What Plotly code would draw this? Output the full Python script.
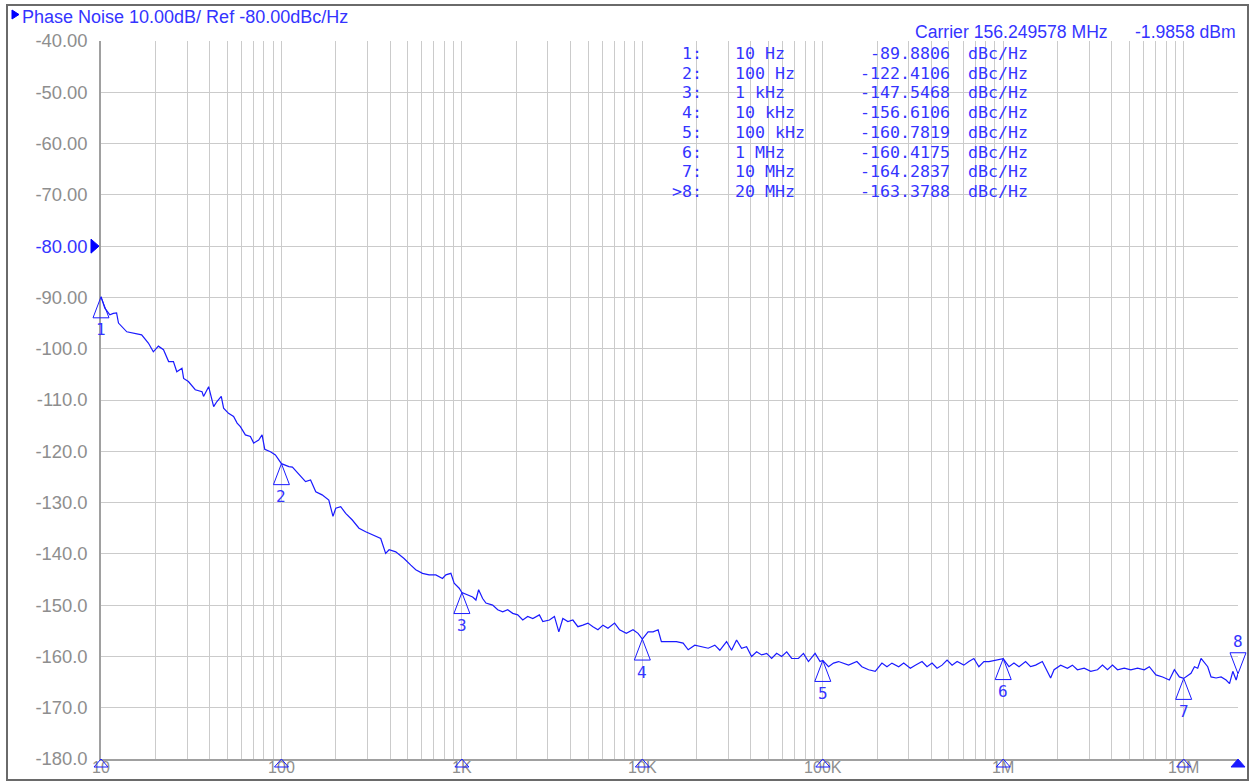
import numpy as np
import plotly.graph_objects as go

# ---------------------------------------------------------------- data
# SSB phase noise trace, offset frequency (Hz) vs level (dBc/Hz)
freq_hz = [
    10, 10.5, 11.2, 11.7, 12.2, 12.5, 13.9, 15.5, 16.8, 18.3,
    19.5, 20.8, 22.2, 23.7, 25.2, 26.3, 28.1, 28.7, 30.5, 33.3,
    36.3, 37.0, 39.5, 42.1, 43.9, 46.4, 47.8, 50.9, 54.3, 56.8,
    59.2, 63.1, 67.3, 70.2, 74.8, 78.1, 80.8, 86.9, 92.6,
    100, 105, 110, 115, 125, 136, 145, 155, 168, 183,
    193, 200, 213, 227, 247, 269, 293, 319, 355, 378,
    395, 430, 478, 521, 555, 605, 658, 717, 781, 815, 869,
    906, 966,
    1000, 1076, 1147, 1196, 1238, 1303, 1359, 1481, 1579, 1683,
    1795, 1913, 2039, 2174, 2317, 2471, 2688, 2808, 3055, 3257,
    3445, 3626, 3866, 4121, 4393, 4684, 4993, 5323, 5675, 6050,
    6449, 7018, 7481, 8150, 8878, 9465,
    10000, 10760, 11470, 12230, 12750, 13890, 15450, 16830, 17950, 19530,
    21270, 23170, 25220, 26880, 29290, 31220, 33290, 35480, 37820, 40320,
    42980, 45820, 48850, 52070, 55510, 59180, 63100, 67260, 73280, 78120,
    83280, 90640, 96610,
    100000, 107600, 114700, 122300, 130300, 138900, 154500, 164700, 179500, 195300,
    212700, 226800, 241700, 263400, 280800, 305500, 325700, 354800, 378200, 403200,
    429800, 458200, 488500, 520700, 555100, 604900, 644900, 687500, 732800, 781200,
    832800, 906400,
    1.0e6, 1.076e6, 1.147e6, 1.223e6, 1.330e6, 1.418e6, 1.512e6, 1.647e6, 1.755e6, 1.831e6,
    1.913e6, 2.082e6, 2.268e6, 2.417e6, 2.577e6, 2.808e6, 3.055e6, 3.329e6, 3.548e6, 3.782e6,
    4.032e6, 4.298e6, 4.684e6, 5.096e6, 5.551e6, 6.049e6, 6.449e6, 7.018e6, 7.644e6, 8.328e6,
    8.878e6, 9.465e6,
    1.0e7, 1.098e7, 1.147e7, 1.196e7, 1.248e7, 1.303e7, 1.359e7, 1.418e7, 1.512e7, 1.612e7,
    1.718e7, 1.795e7, 1.872e7, 1.953e7, 2.0e7,
]
level_dbc = [
    -89.88, -92.1, -93.4, -93.1, -93.0, -95.0, -96.7, -97.0, -97.3, -98.9,
    -100.6, -99.5, -100.2, -102.5, -102.5, -104.5, -103.8, -105.8, -106.4, -108.0,
    -108.4, -109.3, -107.4, -111.3, -110.3, -109.3, -111.6, -112.6, -113.2, -114.5,
    -115.2, -116.8, -117.1, -118.4, -117.8, -116.8, -119.6, -120.1, -120.7,
    -122.41, -122.7, -123.0, -123.1, -124.6, -125.9, -125.6, -127.9, -128.5, -129.5,
    -132.7, -131.1, -130.8, -132.1, -133.4, -135.0, -135.7, -136.3, -137.0, -139.9,
    -139.2, -139.6, -140.9, -142.2, -143.1, -143.8, -144.1, -144.1, -144.8, -144.1, -143.8,
    -145.7, -146.7,
    -147.55, -148.0, -148.4, -149.0, -147.0, -148.7, -149.6, -150.0, -150.9, -151.3,
    -150.9, -151.6, -151.9, -152.9, -152.2, -152.6, -151.9, -153.2, -152.9, -152.2,
    -155.2, -152.6, -153.2, -152.9, -154.2, -153.9, -153.5, -154.2, -154.8, -153.9,
    -154.5, -153.5, -154.8, -155.5, -154.8, -155.5,
    -156.61, -155.2, -155.2, -154.8, -157.1, -157.1, -157.1, -157.4, -158.7, -157.8,
    -158.1, -158.4, -157.8, -158.8, -157.1, -158.8, -156.8, -158.4, -158.1, -160.0,
    -159.1, -159.7, -159.4, -160.4, -159.4, -160.0, -159.1, -160.4, -160.4, -159.4,
    -161.0, -159.4, -161.0,
    -160.78, -162.0, -161.3, -161.0, -161.3, -161.7, -161.0, -162.0, -162.6, -162.9,
    -161.3, -162.0, -161.3, -162.0, -161.3, -162.3, -161.7, -161.0, -162.0, -161.3,
    -162.3, -161.7, -160.7, -161.7, -161.0, -161.7, -161.0, -160.4, -162.0, -161.0,
    -161.0, -160.7,
    -160.42, -162.0, -161.3, -162.0, -161.0, -162.0, -161.7, -161.0, -162.9, -164.2,
    -162.6, -161.7, -162.3, -161.7, -162.6, -162.3, -162.9, -162.6, -161.7, -162.6,
    -161.7, -162.6, -162.3, -162.6, -162.3, -162.6, -162.0, -163.6, -164.0, -164.6,
    -162.6, -164.0,
    -164.28, -163.3, -162.0, -162.3, -160.4, -161.3, -162.0, -164.0, -164.2, -164.0,
    -164.6, -165.3, -162.9, -164.6, -163.38,
]

# marker table
marker_names = ["1", "2", "3", "4", "5", "6", "7", "8"]
marker_freq_hz = [10, 100, 1e3, 1e4, 1e5, 1e6, 1e7, 2e7]
marker_freq_text = ["10 Hz", "100 Hz", "1 kHz", "10 kHz", "100 kHz",
                    "1 MHz", "10 MHz", "20 MHz"]
marker_level = [-89.8806, -122.4106, -147.5468, -156.6106,
                -160.7819, -160.4175, -164.2837, -163.3788]
active_marker = "8"

carrier_text = "Carrier 156.249578 MHz"
carrier_power = "-1.9858 dBm"
ref_level = -80.0
scale_db = 10.0

# axis ticks
y_ticks = [-40, -50, -60, -70, -80, -90, -100, -110, -120, -130,
           -140, -150, -160, -170, -180]
decade_labels = {10: "10", 100: "100", 1e3: "1K", 1e4: "10K",
                 1e5: "100K", 1e6: "1M", 1e7: "10M"}

# ---------------------------------------------------------------- style
W, H = 1252, 781
ML, MR, MT, MB = 101, 14, 41, 22
PW, PH = W - ML - MR, H - MT - MB
BLUE_TXT = "#3434ff"
BLUE_TRACE = "#1a1aff"
GRID = "#cbcbcb"
AXIS = "#a0a0a0"
TICK_TXT = "#8e8e8e"
SANS = "Liberation Sans"
MONO = "DejaVu Sans Mono"

X_LO, X_HI = np.log10(10), np.log10(2e7)


def px_x(px):
    return (px - ML) / PW


def px_y(py):
    return (H - MB - py) / PH


def x_dom(f):
    return (np.log10(f) - X_LO) / (X_HI - X_LO)


# x ticks: every 1..9 multiple per decade, labels only on decades
x_tickvals, x_ticktext = [], []
for dec in [10, 100, 1e3, 1e4, 1e5, 1e6, 1e7]:
    for m in range(1, 10):
        v = dec * m
        if v > 2e7:
            break
        x_tickvals.append(v)
        x_ticktext.append(decade_labels[dec] if m == 1 else "")


def y_label(v):
    s = f"{v:.2f}" if abs(v) < 100 else f"{v:.1f}"
    if v == ref_level:
        s = f"<span style='color:{BLUE_TXT}'>{s}</span>"
    return s


fig = go.Figure()
fig.add_trace(go.Scatter(
    x=freq_hz, y=level_dbc, mode="lines",
    line=dict(color=BLUE_TRACE, width=1.2),
    hoverinfo="skip", showlegend=False,
))

shapes = []
annotations = []

# marker triangles on the trace, numbers beside them
for name, f, lv in zip(marker_names, marker_freq_hz, marker_level):
    active = name == active_marker
    path = "M0,0 L-8,21 L8,21 Z" if active else "M0,0 L-8,-21 L8,-21 Z"
    shapes.append(dict(
        type="path", path=path,
        xref="x domain", xsizemode="pixel", xanchor=x_dom(f),
        yref="y", ysizemode="pixel", yanchor=lv,
        line=dict(color=BLUE_TRACE, width=1), fillcolor="rgba(0,0,0,0)",
        layer="above",
    ))
    annotations.append(dict(
        x=np.log10(f), y=lv, xref="x", yref="y", text=name,
        showarrow=False, yshift=32 if active else -33,
        font=dict(family=MONO, size=16, color=BLUE_TXT),
    ))
    # position indicator on the frequency axis
    shapes.append(dict(
        type="path", path="M0,0 L-7,-8 L7,-8 Z",
        xref="x domain", xsizemode="pixel", xanchor=x_dom(f),
        yref="y domain", ysizemode="pixel", yanchor=0,
        line=dict(color=BLUE_TRACE, width=1),
        fillcolor=BLUE_TRACE if active else "rgba(0,0,0,0)",
        layer="above",
    ))

# reference level pointer
shapes.append(dict(
    type="path", path="M-10,7 L-2,0 L-10,-7 Z",
    xref="x domain", xsizemode="pixel", xanchor=0,
    yref="y", ysizemode="pixel", yanchor=ref_level,
    line=dict(color="#0000ff", width=1), fillcolor="#0000ff", layer="above",
))

# title pointer and outer frame
shapes.append(dict(
    type="path", path=f"M{px_x(12)},{px_y(10)} L{px_x(19)},{px_y(14.5)} "
                      f"L{px_x(12)},{px_y(19)} Z",
    xref="paper", yref="paper",
    line=dict(color="#0000ff", width=1), fillcolor="#0000ff",
))
shapes.append(dict(
    type="rect", xref="paper", yref="paper",
    x0=px_x(7), x1=px_x(1248), y0=px_y(780), y1=px_y(5),
    line=dict(color="#6a6a6a", width=2), fillcolor="rgba(0,0,0,0)",
))

annotations.append(dict(
    xref="paper", yref="paper", x=px_x(20), y=px_y(17), xanchor="left",
    yanchor="middle", showarrow=False,
    text=f"Phase Noise {scale_db:.2f}dB/ Ref {ref_level:.2f}dBc/Hz",
    font=dict(family=SANS, size=18, color=BLUE_TXT),
))
annotations.append(dict(
    xref="paper", yref="paper", x=px_x(913), y=px_y(32), xanchor="left",
    yanchor="middle", showarrow=False, text=carrier_text,
    font=dict(family=SANS, size=17.6, color=BLUE_TXT),
))
annotations.append(dict(
    xref="paper", yref="paper", x=px_x(1238), y=px_y(32), xanchor="right",
    yanchor="middle", showarrow=False, text=carrier_power,
    font=dict(family=SANS, size=17.6, color=BLUE_TXT),
))

# marker readout table
mono = dict(family=MONO, size=16.6, color=BLUE_TXT)
for i, (name, ftxt, lv) in enumerate(zip(marker_names, marker_freq_text,
                                        marker_level)):
    yy = px_y(53.3 + 19.75 * i)
    idx = (">" if name == active_marker else "") + name + ":"
    for xx, anchor, txt in [(703.5, "right", idx), (733, "left", ftxt),
                            (952, "right", f"{lv:.4f}"),
                            (966, "left", "dBc/Hz")]:
        annotations.append(dict(
            xref="paper", yref="paper", x=px_x(xx), y=yy, xanchor=anchor,
            yanchor="middle", showarrow=False, text=txt, font=mono,
        ))

fig.update_layout(
    width=W, height=H,
    margin=dict(l=ML, r=MR, t=MT, b=MB, pad=0),
    paper_bgcolor="white", plot_bgcolor="white",
    shapes=shapes, annotations=annotations,
    xaxis=dict(
        type="log", range=[X_LO, X_HI], automargin=False,
        tickmode="array", tickvals=x_tickvals, ticktext=x_ticktext,
        showgrid=True, gridcolor=GRID, gridwidth=1,
        showline=True, linecolor=AXIS, linewidth=1.5, mirror=False,
        ticks="", ticklabelstandoff=-7, zeroline=False,
        tickfont=dict(family=SANS, size=16, color=TICK_TXT),
    ),
    yaxis=dict(
        range=[-180, -40], automargin=False,
        tickmode="array", tickvals=y_ticks,
        ticktext=[y_label(v) for v in y_ticks],
        showgrid=True, gridcolor=GRID, gridwidth=1,
        showline=True, linecolor=AXIS, linewidth=1.5, mirror=False,
        ticks="", ticklabelstandoff=8, zeroline=False,
        tickfont=dict(family=SANS, size=18.4, color=TICK_TXT),
    ),
)

fig.write_html("out.html")
